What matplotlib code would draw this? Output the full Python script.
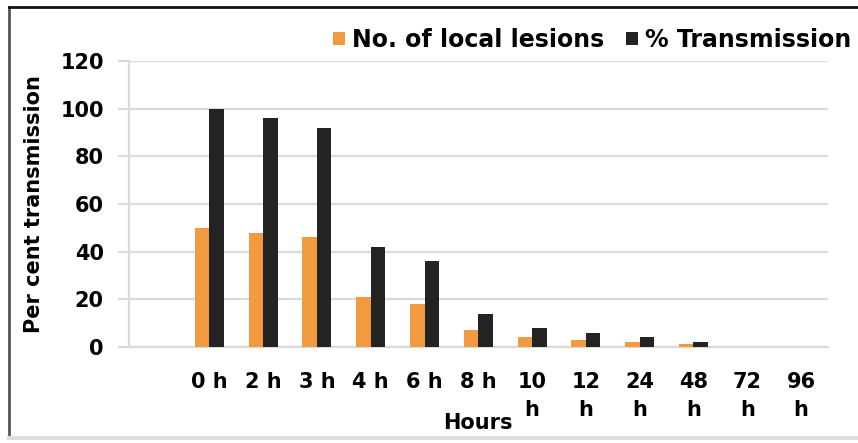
import numpy as np
import matplotlib.pyplot as plt
from matplotlib.lines import Line2D

plt.rcParams['font.family'] = ['DejaVu Sans']
plt.rcParams['font.weight'] = 'bold'

hours = ["", "0 h", "2 h", "3 h", "4 h", "6 h", "8 h", "10\nh", "12\nh", "24\nh", "48\nh", "72\nh", "96\nh"]
lesions = [0, 50, 48, 46, 21, 18, 7, 4, 3, 2, 1, 0, 0]
transmission = [0, 100, 96, 92, 42, 36, 14, 8, 6, 4, 2, 0, 0]

orange = "#F29A3F"
black = "#232323"
grid_c = "#DADADA"
fs = 15

fig = plt.figure(figsize=(8.58, 4.43), dpi=100)
ax = fig.add_axes([0.150, 0.217, 0.815, 0.645])

x = np.arange(len(hours))
w = 0.27
ax.bar(x - w / 2, lesions, w, color=orange, label="No. of local lesions", zorder=3)
ax.bar(x + w / 2, transmission, w, color=black, label="% Transmission", zorder=3)

ax.set_xlim(-0.5, len(hours) - 0.5)
ax.set_ylim(0, 120)
ax.set_yticks(np.arange(0, 121, 20))
ax.yaxis.grid(True, color=grid_c, linewidth=1.6, zorder=0)
ax.set_axisbelow(True)

for s in ["top", "right"]:
    ax.spines[s].set_visible(False)
ax.spines["left"].set_color(grid_c)
ax.spines["left"].set_linewidth(1.6)
ax.spines["bottom"].set_color(grid_c)
ax.spines["bottom"].set_linewidth(1.6)

ax.tick_params(axis="y", length=8, width=1.6, color=grid_c, labelsize=fs, pad=10)
ax.tick_params(axis="x", length=0, labelsize=fs, pad=18)
ax.set_xticks(x)
ax.set_xticklabels(hours, linespacing=1.5, va="top")
for lab in ax.get_xticklabels() + ax.get_yticklabels():
    lab.set_fontweight("bold")

ax.set_ylabel("Per cent transmission", fontsize=fs, fontweight="bold", labelpad=12)
ax.set_xlabel("Hours", fontsize=fs, fontweight="bold")
ax.xaxis.set_label_coords(0.5, -0.265)
ax.xaxis.label.set_va("center")

fig.legend(loc="center right", bbox_to_anchor=(1.0, 1 - 40 / 443), ncol=2, frameon=False,
           borderaxespad=0.1, borderpad=0.2,
           handlelength=0.5, handleheight=0.5, handletextpad=0.3,
           columnspacing=0.9, prop={"weight": "bold", "size": 17})

# outer frame
fig.add_artist(Line2D([9 / 858, 9 / 858], [5 / 443, 1 - 7 / 443], color="#555555", lw=2))
fig.add_artist(Line2D([9 / 858, 1], [1 - 7 / 443, 1 - 7 / 443], color="#111111", lw=2))
fig.add_artist(Line2D([9 / 858, 1], [5 / 443, 5 / 443], color="#DDDDDD", lw=3))

fig.savefig("out.png", dpi=100)
